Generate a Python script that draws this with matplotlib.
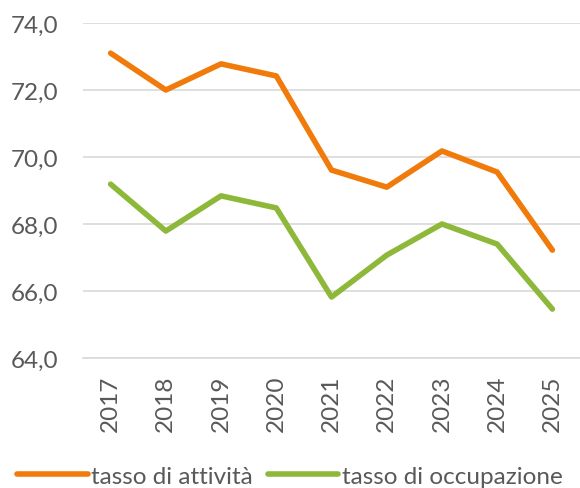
import matplotlib
matplotlib.use("Agg")
import matplotlib.pyplot as plt
from matplotlib.lines import Line2D

years = ["2017", "2018", "2019", "2020", "2021", "2022", "2023", "2024", "2025"]
attivita = [73.1, 72.0, 72.78, 72.42, 69.61, 69.1, 70.18, 69.55, 67.22]
occupazione = [69.19, 67.79, 68.84, 68.48, 65.82, 67.07, 68.0, 67.4, 65.46]
yticks = [64, 66, 68, 70, 72, 74]

orange = "#F07A0A"
green = "#8DB83A"
grey = "#595959"

plt.rcParams["font.family"] = ["Lato", "DejaVu Sans"]

fig = plt.figure(figsize=(5.8, 4.89), dpi=100)
ax = fig.add_axes([83 / 580, 130 / 489, 497 / 580, 335 / 489])

x = range(len(years))
ax.plot(x, attivita, color=orange, lw=4, solid_capstyle="round", solid_joinstyle="round")
ax.plot(x, occupazione, color=green, lw=4, solid_capstyle="round", solid_joinstyle="round")

ax.set_xlim(-0.5, len(years) - 0.5)
ax.set_ylim(64, 74)
ax.set_yticks(yticks)
ax.set_yticklabels([f"{v:.1f}".replace(".", ",") for v in yticks], fontsize=17.5, color=grey)
ax.set_xticks(list(x))
ax.set_xticklabels(years, rotation=90, fontsize=17.5, color=grey)
ax.tick_params(length=0)
ax.tick_params(axis="x", pad=12)
ax.tick_params(axis="y", pad=18)

ax.grid(axis="y", color="#D9D9D9", lw=1.2)
ax.set_axisbelow(True)
for s in ["top", "right", "left"]:
    ax.spines[s].set_visible(False)
ax.spines["bottom"].set_color("#D9D9D9")
ax.spines["bottom"].set_linewidth(1.2)

handles = [Line2D([], [], color=orange, lw=4, solid_capstyle="round"),
           Line2D([], [], color=green, lw=4, solid_capstyle="round")]
fig.legend(handles, ["tasso di attività", "tasso di occupazione"], loc="center",
           bbox_to_anchor=(0.5, 12 / 489), ncol=2, frameon=False, fontsize=17.5,
           labelcolor=grey, handlelength=2.9, handletextpad=0.15, columnspacing=0.6)

fig.savefig("out.png", dpi=100)
